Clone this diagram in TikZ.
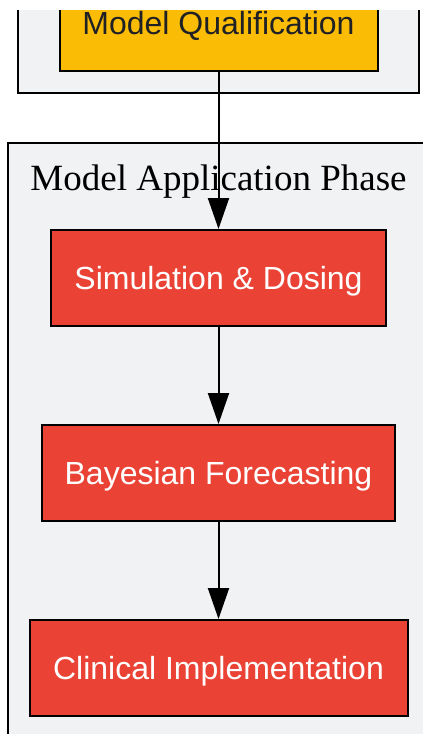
\documentclass[tikz,border=0pt]{standalone}
\usepackage{fontspec}
\setmainfont{Liberation Sans}
\newfontfamily\serifface{Liberation Serif}
\usetikzlibrary{arrows.meta}
\definecolor{clfill}{HTML}{F1F2F4}
\definecolor{gyellow}{HTML}{FBBC05}
\definecolor{gred}{HTML}{EA4335}
\definecolor{dtext}{HTML}{202124}
\tikzset{
  cluster/.style={draw=black, fill=clfill, line width=2pt},
  box/.style={draw=black, line width=2pt, rectangle, minimum height=96pt, inner sep=0pt,
    text depth=0pt, font=\fontsize{32}{38}\selectfont},
  redbox/.style={box, fill=gred, text=white},
  yelbox/.style={box, fill=gyellow, text=dtext},
  arr/.style={draw=black, line width=2pt, -{Triangle[length=31pt,width=21pt]}},
}
\begin{document}
\begin{tikzpicture}[x=1pt,y=-1pt]
\useasboundingbox (0,0) rectangle (423,734);
\fill[white] (0,0) rectangle (423,734);
\begin{scope}
\clip (0,10) rectangle (423,734);
\draw[cluster] (18,-20) rectangle (419,93);
\draw[cluster] (8,143) rectangle (440,760);
\node[text depth=0pt, font=\serifface\fontsize{37}{42}\selectfont] (lbl) at (218.5,178) {Model Application Phase};
\node[yelbox, minimum width=318pt] (mq) at (218.5,23) {Model Qualification};
\node[redbox, minimum width=335pt] (sd) at (218.5,278) {Simulation \& Dosing};
\node[redbox, minimum width=353pt] (bf) at (218.5,473) {Bayesian Forecasting};
\node[redbox, minimum width=378pt] (ci) at (218.5,668) {Clinical Implementation};
\draw[arr] (mq.south) -- (sd.north);
\draw[arr] (sd.south) -- (bf.north);
\draw[arr] (bf.south) -- (ci.north);
\end{scope}
\end{tikzpicture}
\end{document}
